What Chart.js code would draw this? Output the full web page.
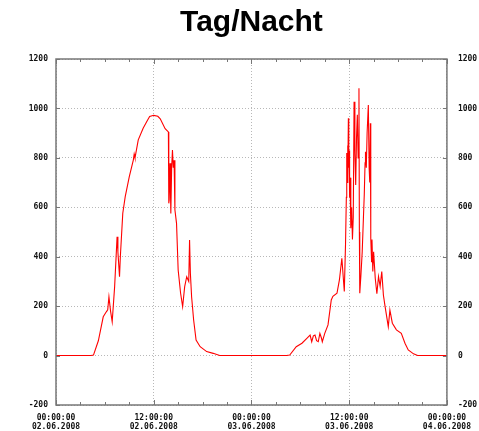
<!DOCTYPE html>
<html>
<head>
<meta charset="utf-8">
<script src="https://cdn.jsdelivr.net/npm/chart.js@4"></script>
<style>
    html, body { margin: 0; padding: 0; background: #fff; }
    #wrap { width: 479px; height: 431px; }
</style>
</head>
<body>
<div id="wrap"><canvas id="chart"></canvas></div>
<script>
'use strict';

/* Section 1: Data */

// hours since 02.06.2008 00:00
const hours = [
    // day 1
    0, 4.3, 4.6, 5.2, 5.8, 6.2, 6.35, 6.5, 6.7, 6.9, 7.2, 7.5, 7.6, 7.8, 7.9,
    8.2, 8.5, 9.0, 9.5, 9.6, 9.7, 10.1, 10.7, 11.2, 11.5, 12.0, 12.5, 12.8, 13.4, 13.8,
    13.85, 13.9, 14.0, 14.1, 14.2, 14.3, 14.4, 14.5, 14.6, 14.8, 15.0, 15.3, 15.55, 15.8, 16.05,
    16.3, 16.4, 16.5, 16.65, 16.9, 17.2, 17.7, 18.5, 19.3, 20.1, 28.3,
    // day 2
    28.7, 29.5, 30.2, 30.8, 31.2, 31.4, 31.6, 31.8, 32.0, 32.2, 32.4, 32.6, 32.7, 33.0, 33.4, 33.8, 34.0, 34.5, 34.8,
    35.1, 35.4, 35.55, 35.65, 35.7, 35.75, 35.8, 35.85, 35.9, 35.95,
    36.0, 36.05, 36.1, 36.2, 36.3, 36.4, 36.5, 36.6, 36.7, 36.8,
    36.9, 37.0, 37.1, 37.2, 37.25, 37.3, 37.45, 37.6, 37.75, 37.85,
    37.95, 38.0, 38.1, 38.2, 38.35, 38.45, 38.5, 38.55, 38.6, 38.65,
    38.75, 38.8, 38.9, 39.0, 39.2, 39.4, 39.6, 39.8, 40.0, 40.2,
    40.4, 40.8, 41.0, 41.3, 41.8, 42.4, 42.85, 43.25, 43.9, 44.4, 48
];

const radiation = [
    // day 1
    0, 0, 2, 60, 157, 178, 185, 238, 180, 137, 279, 481, 420, 319, 400,
    576, 643, 724, 792, 815, 800, 873, 920, 950, 967, 972, 968, 958, 918, 905,
    616, 630, 778, 575, 760, 832, 760, 790, 590, 535, 346, 252, 198, 279, 319,
    300, 468, 333, 238, 144, 63, 36, 16, 9, 0, 0,
    // day 2
    2, 36, 50, 70, 83, 56, 80, 83, 60, 56, 90, 70, 56, 90, 124, 225, 240, 252, 306,
    394, 259, 450, 640, 820, 700, 850, 720, 960, 760,
    830, 640, 720, 515, 600, 470, 560, 1027, 820, 690,
    880, 974, 800, 1082, 500, 252, 330, 420, 560, 650,
    780, 825, 760, 900, 1014, 760, 820, 700, 940, 475,
    380, 470, 340, 420, 313, 250, 320, 280, 340, 245,
    200, 117, 184, 131, 104, 90, 50, 23, 7, 0, 0
];

const timeLabels = ['00:00:00', '12:00:00', '00:00:00', '12:00:00', '00:00:00'];
const dateLabels = ['02.06.2008', '02.06.2008', '03.06.2008', '03.06.2008', '04.06.2008'];

const tickFont = { family: 'DejaVu Sans Mono', size: 8, weight: 'bold', lineHeight: 1.2 };

/* Section 2: Plugins */

// frame around the plot and small inward tick marks
const frameTicks = {
    id: 'frameTicks',
    afterDatasetsDraw(chart) {
        const { ctx, chartArea: area, scales } = chart;
        ctx.save();
        ctx.strokeStyle = '#777';
        ctx.lineWidth = 1;
        ctx.beginPath();
        for (let h = 0; h <= 48; h += 3) {
            const x = Math.round(scales.x.getPixelForValue(h)) + 0.5;
            const len = h % 12 === 0 ? 5 : 3;
            ctx.moveTo(x, area.bottom);
            ctx.lineTo(x, area.bottom - len);
            ctx.moveTo(x, area.top);
            ctx.lineTo(x, area.top + len);
        }
        for (let v = -200; v <= 1200; v += 200) {
            const y = Math.round(scales.y.getPixelForValue(v)) + 0.5;
            ctx.moveTo(area.left, y);
            ctx.lineTo(area.left + 4, y);
            ctx.moveTo(area.right, y);
            ctx.lineTo(area.right - 4, y);
        }
        ctx.stroke();
        ctx.lineWidth = 1.5;
        ctx.strokeRect(area.left, area.top, area.right - area.left, area.bottom - area.top);
        ctx.restore();
    }
};

/* Section 3: Chart */

const points = hours.map((h, i) => ({ x: h, y: radiation[i] }));

const config = {
    type: 'line',
    data: {
        datasets: [{
            label: 'Tag/Nacht',
            data: points,
            borderColor: '#ff0000',
            borderWidth: 1.1,
            pointRadius: 0,
            tension: 0,
            yAxisID: 'y'
        }]
    },
    options: {
        responsive: true,
        maintainAspectRatio: false,
        animation: false,
        layout: { padding: 0 },
        scales: {
            x: {
                type: 'linear',
                position: 'bottom',
                min: 0,
                max: 48,
                afterFit: scale => { scale.height = 26; },
                ticks: {
                    stepSize: 12,
                    autoSkip: false,
                    maxRotation: 0,
                    padding: 8,
                    color: '#111',
                    font: tickFont,
                    callback: value => [timeLabels[value / 12], dateLabels[value / 12]]
                },
                grid: { color: '#b8b8b8', drawTicks: false },
                border: { display: false, dash: [1, 2] }
            },
            y: {
                position: 'left',
                min: -200,
                max: 1200,
                afterFit: scale => { scale.width = 56; },
                ticks: { stepSize: 200, padding: 8, color: '#111', font: tickFont, callback: value => String(value) },
                grid: { color: '#b8b8b8', drawTicks: false },
                border: { display: false, dash: [1, 2] }
            },
            y2: {
                position: 'right',
                min: -200,
                max: 1200,
                afterFit: scale => { scale.width = 32; },
                ticks: { stepSize: 200, padding: 11, color: '#111', font: tickFont, callback: value => String(value) },
                grid: { display: false, drawTicks: false },
                border: { display: false }
            }
        },
        plugins: {
            legend: { display: false },
            tooltip: { enabled: false },
            title: {
                display: true,
                text: 'Tag/Nacht',
                fullSize: false,
                color: '#000',
                font: { family: 'Liberation Sans', size: 30, weight: 'bold' },
                padding: { top: 5, bottom: 18 }
            }
        }
    },
    plugins: [frameTicks]
};

new Chart(document.querySelector('#chart'), config);
</script>
</body>
</html>
